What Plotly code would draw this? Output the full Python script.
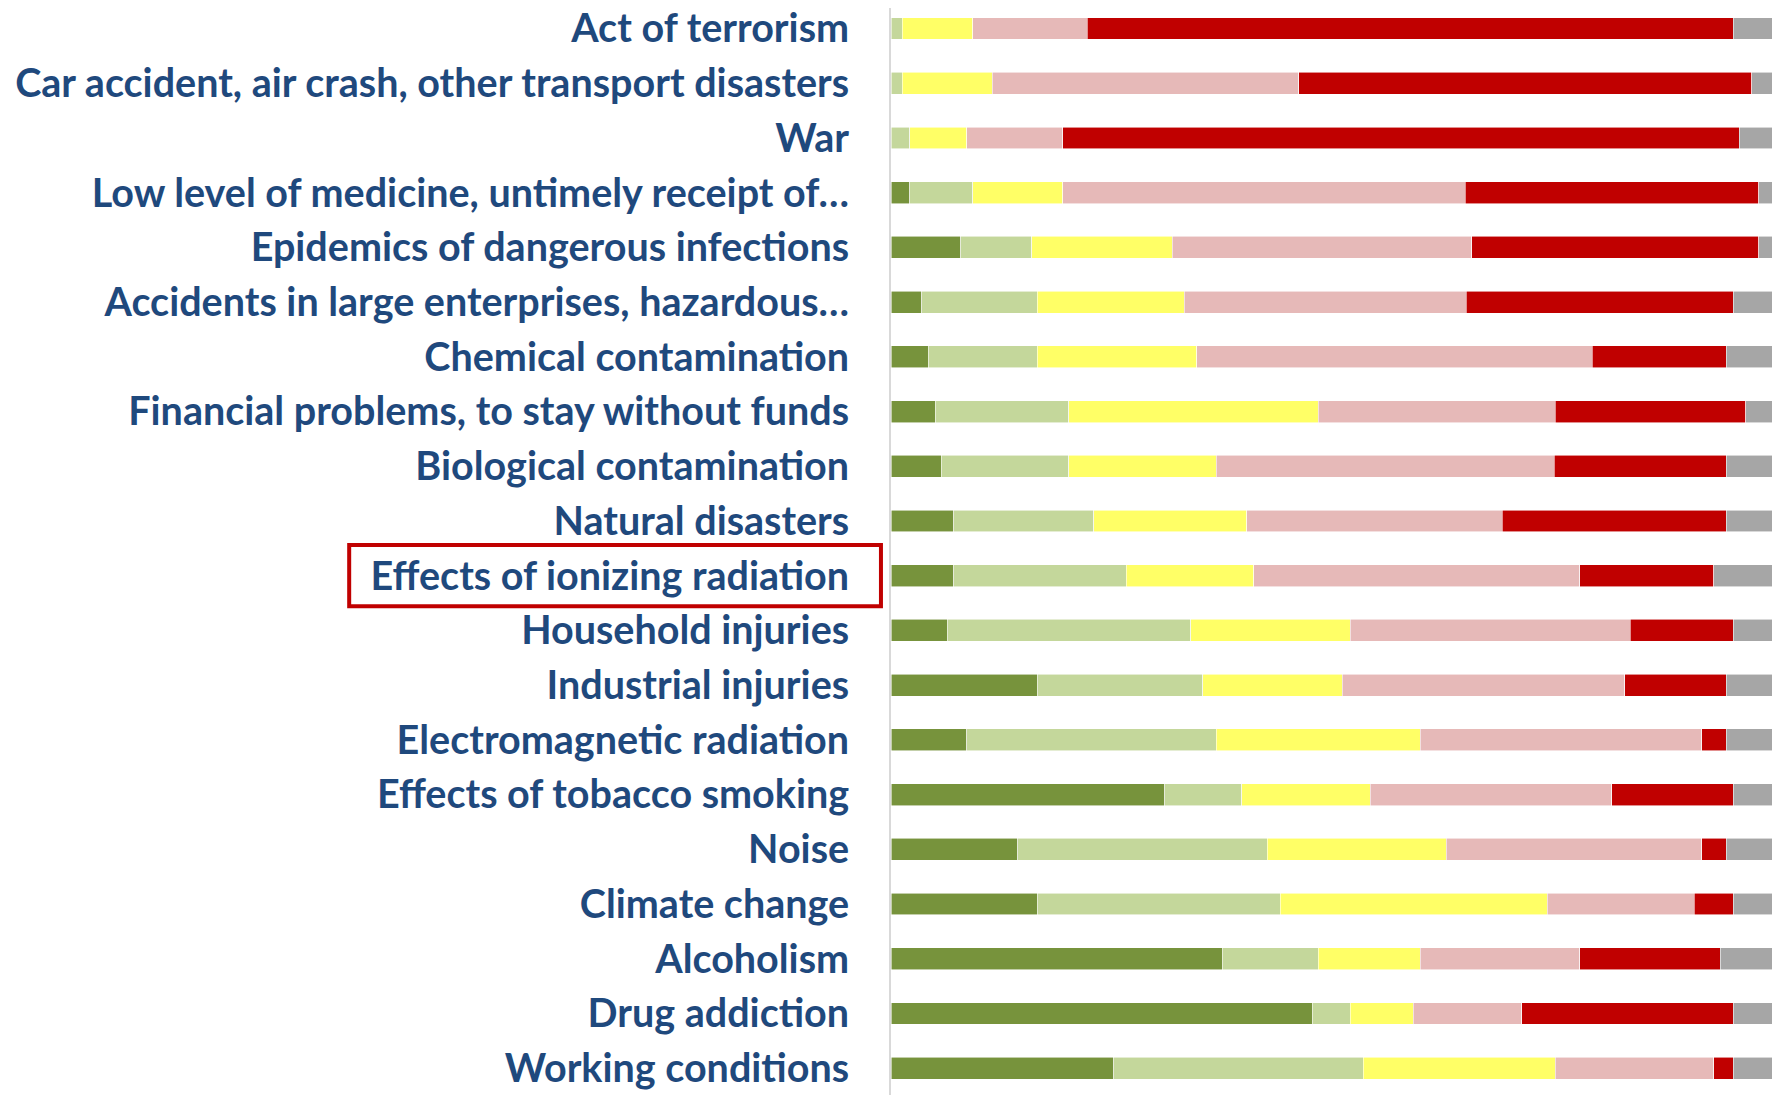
import plotly.graph_objects as go

categories = [
    "Act of terrorism",
    "Car accident, air crash, other transport disasters",
    "War",
    "Low level of medicine, untimely receipt of…",
    "Epidemics of dangerous infections",
    "Accidents in large enterprises, hazardous…",
    "Chemical contamination",
    "Financial problems, to stay without funds",
    "Biological contamination",
    "Natural disasters",
    "Effects of ionizing radiation",
    "Household injuries",
    "Industrial injuries",
    "Electromagnetic radiation",
    "Effects of tobacco smoking",
    "Noise",
    "Climate change",
    "Alcoholism",
    "Drug addiction",
    "Working conditions",
]

not_dangerous      = [0.0, 0.0, 0.0, 2.1, 7.9, 3.5, 4.2, 5.0, 5.7, 7.1, 7.1, 6.4, 16.6, 8.6, 31.1, 14.4, 16.6, 37.6, 47.8, 25.3]
slightly_dangerous = [1.3, 1.3, 2.1, 7.2, 8.1, 13.1, 12.4, 15.2, 14.5, 15.9, 19.6, 27.6, 18.8, 28.3, 8.7, 28.3, 27.6, 10.9, 4.3, 28.3]
moderately         = [8.0, 10.2, 6.5, 10.2, 15.9, 16.7, 18.1, 28.3, 16.7, 17.4, 14.5, 18.1, 15.8, 23.2, 14.6, 20.3, 30.3, 11.6, 7.2, 21.8]
dangerous          = [13.0, 34.8, 10.9, 45.7, 34.0, 32.0, 44.9, 26.9, 38.4, 29.0, 37.0, 31.8, 32.1, 31.9, 27.4, 29.0, 16.7, 18.1, 12.3, 18.0]
very_dangerous     = [73.3, 51.4, 76.8, 33.3, 32.6, 30.3, 15.2, 21.6, 19.5, 25.4, 15.2, 11.7, 11.5, 2.8, 13.8, 2.8, 4.4, 15.9, 24.0, 2.2]
hard_to_answer     = [4.4, 2.3, 3.7, 1.5, 1.5, 4.4, 5.2, 3.0, 5.2, 5.2, 6.6, 4.4, 5.2, 5.2, 4.4, 5.2, 4.4, 5.9, 4.4, 4.4]

series = [
    ("Not dangerous", not_dangerous, "#77933C"),
    ("Slightly dangerous", slightly_dangerous, "#C4D79B"),
    ("Moderately dangerous", moderately, "#FFFF66"),
    ("Dangerous", dangerous, "#E6B9B8"),
    ("Very dangerous", very_dangerous, "#C00000"),
    ("Hard to answer", hard_to_answer, "#A6A6A6"),
]

highlight = "Effects of ionizing radiation"

fig = go.Figure()
for name, vals, color in series:
    fig.add_trace(go.Bar(
        y=categories, x=vals, name=name, orientation="h",
        marker=dict(color=color, line=dict(width=0.8, color="rgba(255,255,255,0.7)")),
        width=0.4, showlegend=False,
    ))

hi = categories.index(highlight)
fig.add_shape(type="rect", xref="paper", yref="y",
              x0=-0.615, x1=-0.0114, y0=hi - 0.56, y1=hi + 0.56,
              line=dict(color="#C00000", width=4), fillcolor="rgba(0,0,0,0)")

fig.update_layout(
    width=1779, height=1087,
    barmode="stack",
    plot_bgcolor="white", paper_bgcolor="white",
    margin=dict(l=883, r=15, t=0, b=0, autoexpand=False),
    xaxis=dict(range=[0, 100], visible=False, showgrid=False, zeroline=False,
               automargin=False),
    yaxis=dict(
        range=[19.49, -0.375], showgrid=False, zeroline=False,
        showline=True, linecolor="#D9D9D9", linewidth=2,
        ticks="", ticklabelstandoff=32, automargin=False,
        tickfont=dict(family="Lato", size=39.5, color="#1F497D", weight="bold"),
    ),
)

fig.write_html("out.html")
